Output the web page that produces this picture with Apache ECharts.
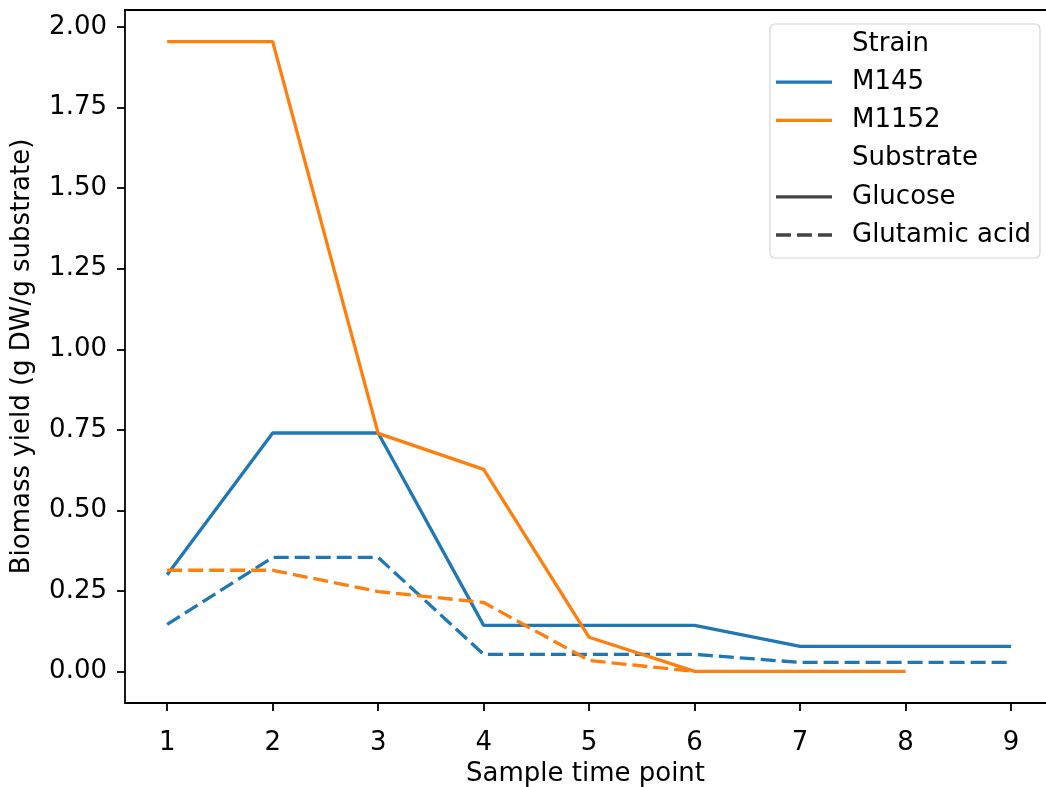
<!DOCTYPE html>
<html>
<head>
<meta charset="utf-8">
<title>Biomass yield</title>
<script src="https://cdn.jsdelivr.net/npm/echarts@6/dist/echarts.min.js"></script>
<style>
  html, body { margin: 0; padding: 0; background: #fff; }
  #chart { width: 1046px; height: 787px; }
</style>
</head>
<body>
<div id="chart"></div>
<script>
// values
const timePoints = [1, 2, 3, 4, 5, 6, 7, 8, 9];
const yTicks = [0, 0.25, 0.5, 0.75, 1.0, 1.25, 1.5, 1.75, 2.0];
const m145Glucose = [0.30, 0.74, 0.74, 0.143, 0.143, 0.143, 0.078, 0.078, 0.078];
const m145Glutamic = [0.146, 0.354, 0.354, 0.053, 0.053, 0.053, 0.028, 0.028, 0.028];
const m1152Glucose = [1.955, 1.955, 0.739, 0.627, 0.106, 0.0, 0.0, 0.0, null];
const m1152Glutamic = [0.314, 0.314, 0.248, 0.214, 0.034, 0.0, null, null, null];

const BLUE = '#1f77b4';
const ORANGE = '#ff7f0e';
const GREY = '#444444';
const FONT = 'DejaVu Sans';
const FS = 26;
const DASH = [15, 6];

const legendRows = [
  { label: 'Strain' },
  { label: 'M145', color: BLUE },
  { label: 'M1152', color: ORANGE },
  { label: 'Substrate' },
  { label: 'Glucose', color: GREY },
  { label: 'Glutamic acid', color: GREY, dash: DASH }
];

function pairs(ys) {
  return timePoints.map((x, i) => [x, ys[i]]);
}

function lineSeries(name, ys, color, dashed) {
  return {
    name: name,
    type: 'line',
    data: pairs(ys),
    showSymbol: false,
    symbol: 'none',
    connectNulls: false,
    lineStyle: { color: color, width: 3.3, type: dashed ? DASH : 'solid', cap: 'butt' },
    itemStyle: { color: color },
    emphasis: { disabled: true }
  };
}

const chart = echarts.init(document.getElementById('chart'), null, { renderer: 'canvas' });

// legend drawn as graphic elements
const legendGraphics = [{
  type: 'rect',
  shape: { x: 770, y: 24, width: 270, height: 234, r: 5 },
  style: { fill: 'rgba(255,255,255,0.8)', stroke: '#d6d6d6', lineWidth: 1.2 },
  z: 100
}];
legendRows.forEach((row, i) => {
  const cy = 44 + i * 38.2;
  if (row.color) {
    legendGraphics.push({
      type: 'line',
      shape: { x1: 776, y1: cy, x2: 832, y2: cy },
      style: { stroke: row.color, lineWidth: 3.3, lineDash: row.dash || null },
      z: 101
    });
  }
  legendGraphics.push({
    type: 'text',
    x: 852, y: cy,
    style: { text: row.label, fill: '#000', font: FS + 'px "' + FONT + '"', textVerticalAlign: 'middle', textAlign: 'left' },
    z: 101
  });
});

const spine = { show: true, onZero: false, lineStyle: { color: '#000', width: 1.8 } };

chart.setOption({
  animation: false,
  backgroundColor: '#fff',
  textStyle: { fontFamily: FONT },
  grid: { left: 125, top: 10, right: 0, bottom: 84, show: false, outerBoundsMode: 'none', containLabel: false },
  xAxis: [{
    type: 'value',
    // right spine is cut off by the image edge, so the range ends there
    min: 0.6, max: 9.331,
    name: 'Sample time point',
    nameLocation: 'middle',
    nameGap: 46,
    nameTextStyle: { fontSize: FS, color: '#000', fontFamily: FONT },
    axisLine: spine,
    axisTick: { show: true, length: 8, lineStyle: { color: '#000', width: 1.8 }, customValues: timePoints },
    axisLabel: { fontSize: FS, color: '#000', margin: 27, fontFamily: FONT, customValues: timePoints },
    splitLine: { show: false }
  }, {
    type: 'value',
    position: 'top',
    min: 0.6, max: 9.331,
    axisLine: spine,
    axisTick: { show: false },
    axisLabel: { show: false },
    splitLine: { show: false }
  }],
  yAxis: {
    type: 'value',
    min: -0.098, max: 2.053,
    name: 'Biomass yield (g DW/g substrate)',
    nameLocation: 'middle',
    nameGap: 90,
    nameTextStyle: { fontSize: FS, color: '#000', fontFamily: FONT },
    axisLine: spine,
    axisTick: { show: true, length: 8, lineStyle: { color: '#000', width: 1.8 }, customValues: yTicks },
    axisLabel: {
      fontSize: FS, color: '#000', margin: 18, fontFamily: FONT,
      customValues: yTicks,
      formatter: v => v.toFixed(2)
    },
    splitLine: { show: false }
  },
  series: [
    lineSeries('M145 Glucose', m145Glucose, BLUE, false),
    lineSeries('M145 Glutamic acid', m145Glutamic, BLUE, true),
    lineSeries('M1152 Glucose', m1152Glucose, ORANGE, false),
    lineSeries('M1152 Glutamic acid', m1152Glutamic, ORANGE, true)
  ],
  graphic: legendGraphics
});
</script>
</body>
</html>
